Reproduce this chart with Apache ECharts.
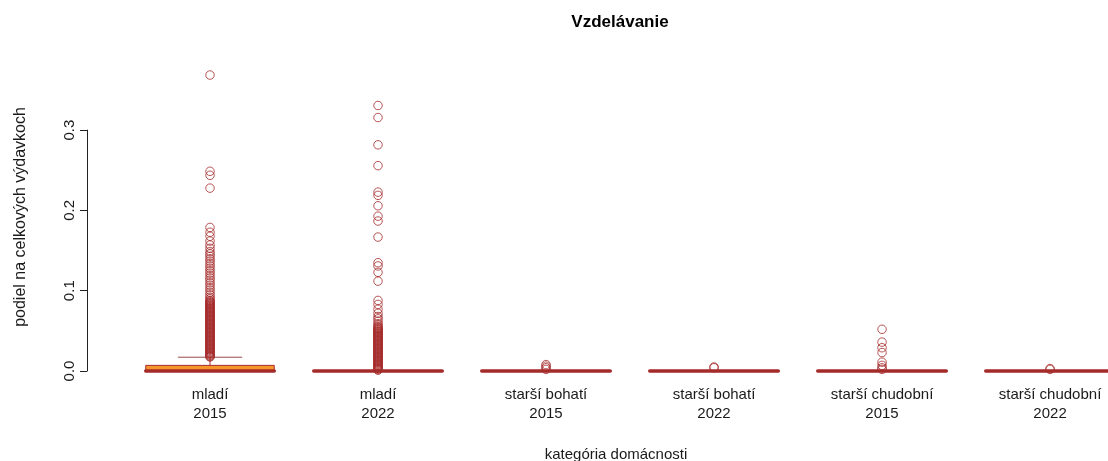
<!DOCTYPE html>
<html>
<head>
<meta charset="utf-8">
<script src="https://cdn.jsdelivr.net/npm/echarts@6/dist/echarts.min.js"></script>
<style>
html,body{margin:0;padding:0;background:#fff;}
#chart{width:1108px;height:461px;}
</style>
</head>
<body>
<div id="chart"></div>
<script>
var titleText = 'Vzdelávanie';
var xAxisTitle = 'kategória domácnosti';
var yAxisTitle = 'podiel na celkových výdavkoch';
var categories = ['mladí\n2015', 'mladí\n2022', 'starší bohatí\n2015', 'starší bohatí\n2022', 'starší chudobní\n2015', 'starší chudobní\n2022'];
var categoryPositions = [0, 1, 2, 3, 4, 5];
var yTicks = [0, 0.1, 0.2, 0.3];

var q1 = [0, 0, 0, 0, 0, 0];
var median = [0, 0, 0, 0, 0, 0];
var q3 = [0.007, 0, 0, 0, 0, 0];
var whiskerLow = [0, 0, 0, 0, 0, 0];
var whiskerHigh = [0.0172, 0, 0, 0, 0, 0];

var outliers1 = [0.369, 0.249, 0.244, 0.228, 0.179, 0.173, 0.168, 0.162, 0.157, 0.153, 0.149, 0.146, 0.143, 0.140,
  0.137, 0.134, 0.131, 0.128, 0.125, 0.122, 0.119, 0.116, 0.113, 0.110, 0.107, 0.104, 0.101, 0.098, 0.095, 0.092,
  0.090, 0.088, 0.087, 0.086, 0.085, 0.084, 0.083, 0.082, 0.081, 0.080, 0.079, 0.078, 0.077, 0.076, 0.075, 0.074,
  0.073, 0.072, 0.071, 0.070, 0.069, 0.068, 0.067, 0.066, 0.065, 0.064, 0.063, 0.062, 0.061, 0.060, 0.059, 0.058,
  0.057, 0.056, 0.055, 0.054, 0.053, 0.052, 0.051, 0.050, 0.049, 0.048, 0.047, 0.046, 0.045, 0.044, 0.043, 0.042,
  0.041, 0.040, 0.039, 0.038, 0.037, 0.036, 0.035, 0.034, 0.033, 0.032, 0.031, 0.030, 0.029, 0.028, 0.027, 0.026,
  0.025, 0.024, 0.023, 0.022, 0.021, 0.020, 0.019, 0.018, 0.0176];
var outliers2 = [0.331, 0.316, 0.282, 0.256, 0.223, 0.219, 0.206, 0.193, 0.187, 0.167, 0.135, 0.131, 0.123, 0.112,
  0.088, 0.083, 0.077, 0.072, 0.068, 0.065, 0.062, 0.059, 0.057, 0.055, 0.054, 0.053, 0.052, 0.051, 0.050, 0.049,
  0.048, 0.047, 0.046, 0.045, 0.044, 0.043, 0.042, 0.041, 0.040, 0.039, 0.038, 0.037, 0.036, 0.035, 0.034, 0.033,
  0.032, 0.031, 0.030, 0.029, 0.028, 0.027, 0.026, 0.025, 0.024, 0.023, 0.022, 0.021, 0.020, 0.019, 0.018, 0.017,
  0.016, 0.015, 0.014, 0.013, 0.012, 0.011, 0.010, 0.009, 0.008, 0.007, 0.006, 0.005, 0.004, 0.003, 0.002, 0.001];
var outliers3 = [0.008, 0.006, 0.004, 0.002];
var outliers4 = [0.005, 0.004];
var outliers5 = [0.052, 0.036, 0.029, 0.023, 0.011, 0.007, 0.004, 0.002];
var outliers6 = [0.003, 0.002];
var outlierLists = [outliers1, outliers2, outliers3, outliers4, outliers5, outliers6];

var BROWN = '#A52A2A';
var ORANGE = '#F6962A';
var FONT = '"Liberation Sans", Arial, sans-serif';

var boxData = categoryPositions.map(function (p, i) {
  return [p, q1[i], median[i], q3[i], whiskerLow[i], whiskerHigh[i]];
});
var outlierData = [];
outlierLists.forEach(function (list, i) {
  list.forEach(function (v) { outlierData.push([categoryPositions[i], v]); });
});

var chart = echarts.init(document.getElementById('chart'), null, {renderer: 'canvas'});
chart.setOption({
  backgroundColor: '#ffffff',
  animation: false,
  grid: [
    {left: 126, right: 0, top: 63, bottom: 90, containLabel: false},
    {left: 87, width: 10, top: 130.1, bottom: 90, containLabel: false}
  ],
  xAxis: [
    {type: 'value', gridIndex: 0, min: -0.5, max: 5.345,
      axisLine: {show: false}, axisTick: {show: false}, splitLine: {show: false},
      axisLabel: {show: true, customValues: categoryPositions, margin: 14, color: '#1a1a1a', fontFamily: FONT,
        fontSize: 15, lineHeight: 19,
        formatter: function (v) { return categories[Math.round(v)]; }}},
    {type: 'value', gridIndex: 1, show: false}
  ],
  yAxis: [
    {type: 'value', gridIndex: 0, min: 0, max: 0.384, show: true,
      axisLine: {show: false}, axisTick: {show: false}, axisLabel: {show: false}, splitLine: {show: false},
      name: yAxisTitle, nameLocation: 'middle', nameGap: 97, nameRotate: 90,
      nameTextStyle: {color: '#1a1a1a', fontFamily: FONT, fontSize: 16}},
    {type: 'value', gridIndex: 1, min: yTicks[0], max: yTicks[yTicks.length - 1], interval: 0.1,
      axisLine: {show: true, lineStyle: {color: '#222', width: 1}},
      axisTick: {show: true, length: 7, lineStyle: {color: '#222', width: 1}},
      splitLine: {show: false},
      axisLabel: {show: true, rotate: 90, margin: 10, color: '#1a1a1a', fontFamily: FONT, fontSize: 15,
        formatter: function (v) { return v.toFixed(1); }}}
  ],
  graphic: [
    {type: 'text', x: 620, y: 22, style: {text: titleText, textAlign: 'center', textVerticalAlign: 'middle',
      font: 'bold 17px ' + FONT, fill: '#000'}},
    {type: 'text', x: 616, y: 455, style: {text: xAxisTitle, textAlign: 'center', textVerticalAlign: 'middle',
      font: '15px ' + FONT, fill: '#1a1a1a'}}
  ],
  series: [
    {
      type: 'custom', xAxisIndex: 0, yAxisIndex: 0, clip: false,
      data: boxData,
      encode: {x: 0, y: [1, 2, 3, 4, 5]},
      renderItem: function (params, api) {
        var p = api.value(0);
        var bw = api.size([1, 0])[0] * 0.765;
        var cx = api.coord([p, 0])[0];
        var yq1 = api.coord([p, api.value(1)])[1];
        var ymed = api.coord([p, api.value(2)])[1];
        var yq3 = api.coord([p, api.value(3)])[1];
        var ylo = api.coord([p, api.value(4)])[1];
        var yhi = api.coord([p, api.value(5)])[1];
        var thin = {stroke: BROWN, lineWidth: 1, fill: null};
        var staple = {stroke: '#9a4a4a', lineWidth: 1, fill: null};
        return {
          type: 'group',
          children: [
            {type: 'line', shape: {x1: cx, y1: yq3, x2: cx, y2: yhi}, style: thin},
            {type: 'line', shape: {x1: cx, y1: yq1, x2: cx, y2: ylo}, style: thin},
            {type: 'line', shape: {x1: cx - bw / 4, y1: yhi, x2: cx + bw / 4, y2: yhi}, style: staple},
            {type: 'line', shape: {x1: cx - bw / 4, y1: ylo, x2: cx + bw / 4, y2: ylo}, style: staple},
            {type: 'rect', shape: {x: cx - bw / 2, y: yq3, width: bw, height: yq1 - yq3},
              style: {fill: ORANGE, stroke: BROWN, lineWidth: 1}},
            {type: 'line', shape: {x1: cx - bw / 2, y1: ymed, x2: cx + bw / 2, y2: ymed},
              style: {stroke: BROWN, lineWidth: 3.5, lineCap: 'round'}}
          ]
        };
      }
    },
    {
      type: 'scatter', xAxisIndex: 0, yAxisIndex: 0, clip: false,
      data: outlierData,
      symbol: 'circle', symbolSize: 8.5,
      itemStyle: {color: 'rgba(0,0,0,0)', borderColor: BROWN, borderWidth: 1},
      z: 3
    }
  ]
});
</script>
</body>
</html>
